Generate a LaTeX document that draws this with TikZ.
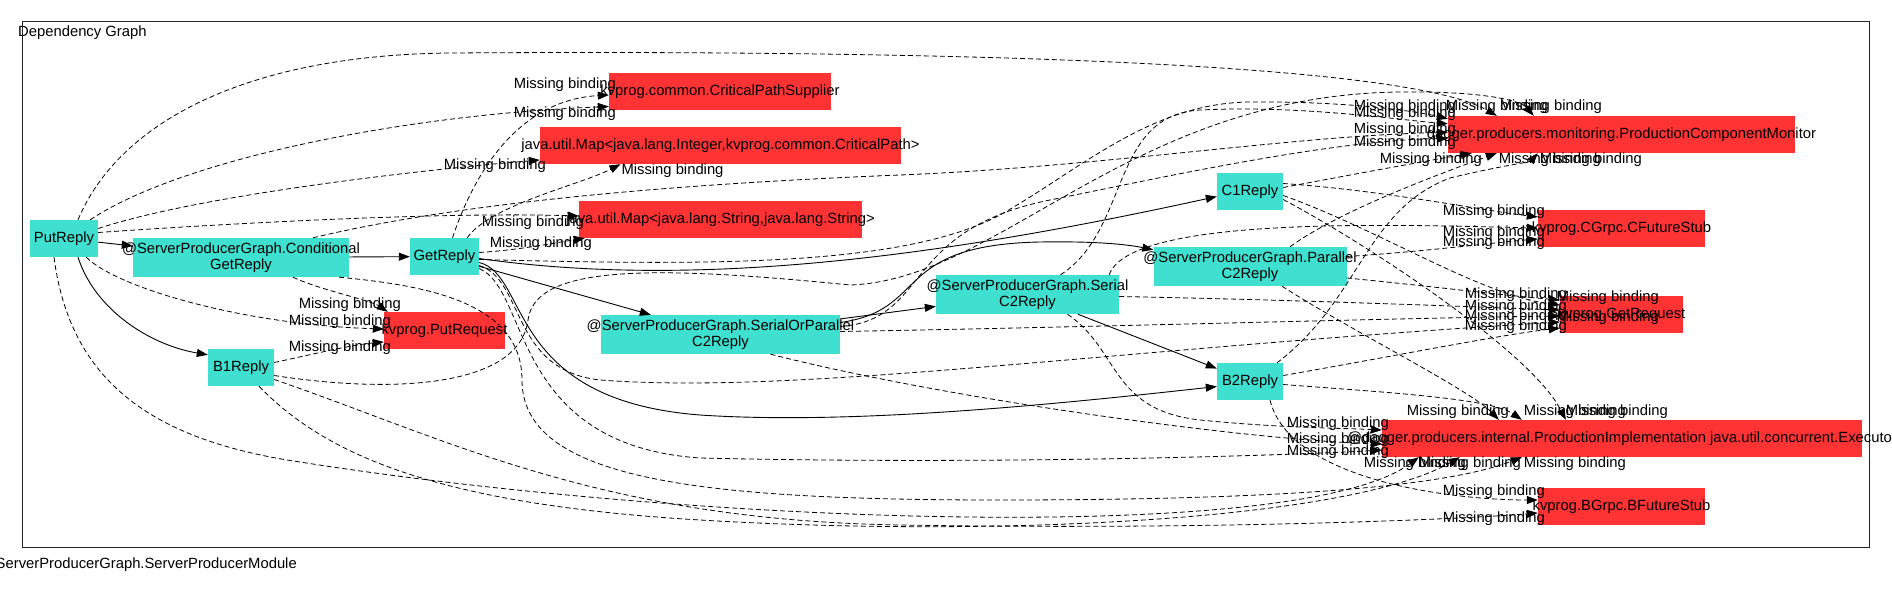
\documentclass[tikz,border=0pt]{standalone}
\usepackage{fontspec}
\setmainfont{Liberation Sans}
\usetikzlibrary{arrows.meta}
\definecolor{replycyan}{RGB}{64,224,208}
\definecolor{missred}{RGB}{255,51,51}
\newcommand{\spill}[1]{\makebox[0pt]{#1}}
\tikzset{
  reply/.style={fill=replycyan, inner sep=0pt, minimum height=37pt, align=center},
  unbound/.style={fill=missred, inner sep=0pt, minimum height=37pt},
  dep/.style={line width=0.9pt, -{Triangle[length=11pt,width=8pt]}},
  miss/.style={dep, line width=0.8pt, dash pattern=on 5pt off 3pt},
  lbl/.style={inner sep=0pt}
}
\begin{document}
\begin{tikzpicture}[x=1pt, y=-1pt, font=\fontsize{14.8}{16}\selectfont]
      \useasboundingbox (0,0) rectangle (1892,593);
      \draw[line width=1pt, black!85] (22,22) rectangle (1869,547);
      \node[anchor=west, inner sep=0pt] (title) at (18,33) {Dependency Graph};
      \node[anchor=east, inner sep=0pt] (module) at (297,565) {ServerProducerGraph.ServerProducerModule};

      \node[reply, minimum width=68pt] (put) at (64,238.5) {PutReply};
      \node[reply, minimum width=216pt, minimum height=39pt] (cond) at (241,257.5) {\spill{@ServerProducerGraph.Conditional}\\GetReply};
      \node[reply, minimum width=69pt] (get) at (444.5,256.5) {GetReply};
      \node[reply, minimum width=66pt] (bone) at (241,367.5) {B1Reply};
      \node[reply, minimum width=239pt, minimum height=39pt] (sop) at (720.5,334.5) {\spill{@ServerProducerGraph.SerialOrParallel}\\C2Reply};
      \node[reply, minimum width=183pt, minimum height=39pt] (serial) at (1027.5,294.5) {\spill{@ServerProducerGraph.Serial}\\C2Reply};
      \node[reply, minimum width=66pt] (cone) at (1250,191.5) {C1Reply};
      \node[reply, minimum width=193pt, minimum height=39pt] (par) at (1250,266.5) {\spill{@ServerProducerGraph.Parallel}\\C2Reply};
      \node[reply, minimum width=66pt] (btwo) at (1250,381.5) {B2Reply};

      \node[unbound, minimum width=121pt] (putreq) at (444.5,330.5) {\spill{kvprog.PutRequest}};
      \node[unbound, minimum width=222pt] (cps) at (720,91.5) {\spill{kvprog.common.CriticalPathSupplier}};
      \node[unbound, minimum width=361pt] (mapint) at (720.5,145.5) {\spill{java.util.Map<java.lang.Integer,kvprog.common.CriticalPath>}};
      \node[unbound, minimum width=283pt] (mapstr) at (720.5,219.5) {\spill{java.util.Map<java.lang.String,java.lang.String>}};
      \node[unbound, minimum width=347pt] (mon) at (1621.5,134.5) {\spill{dagger.producers.monitoring.ProductionComponentMonitor}};
      \node[unbound, minimum width=167pt] (cstub) at (1621.5,228.5) {\spill{kvprog.CGrpc.CFutureStub}};
      \node[unbound, minimum width=123pt] (getreq) at (1621.5,314.5) {\spill{kvprog.GetRequest}};
      \node[unbound, minimum width=480pt] (impl) at (1622,438.5) {\spill{@dagger.producers.internal.ProductionImplementation java.util.concurrent.Executor}};
      \node[unbound, minimum width=167pt] (bstub) at (1621.5,506.5) {\spill{kvprog.BGrpc.BFutureStub}};

      \draw[dep] (put) -- (cond);
      \draw[dep] ([shift={(14,0)}]put.south) .. controls (95,310) and (150,345) .. ([shift={(0,6)}]bone.north west);
      \draw[dep] (cond) -- (get);
      \draw[dep] (get) -- (sop);
      \draw[dep] ([shift={(0,2)}]get.east) .. controls (700,290) and (950,255) .. ([shift={(0,5)}]cone.west);
      \draw[dep] ([shift={(0,6)}]get.east) .. controls (530,275) and (505,400) .. (700,415) .. controls (850,425) and (1050,405) .. ([shift={(0,5)}]btwo.west);
      \draw[dep] (sop) -- (serial);
      \draw[dep] ([shift={(0,-12)}]sop.east) .. controls (930,310) and (890,245) .. (1040,242) .. controls (1100,241) and (1130,245) .. ([shift={(0,3)}]par.north west);
      \draw[dep] (serial) -- (btwo);

      \draw[miss] ([shift={(8,0)}]get.north) .. controls (475,170) and (520,100) .. ([shift={(0,3.5)}]cps.west) node[lbl, shift={(-44,-10)}] {Missing binding};
      \draw[miss] ([shift={(-8,0)}]put.north east) .. controls (180,160) and (400,115) .. ([shift={(0,15)}]cps.west) node[lbl, shift={(-44,7)}] {Missing binding};
      \draw[miss] ([shift={(0,-10)}]put.east) .. controls (200,195) and (420,170) .. ([shift={(0,14.5)}]mapint.west) node[lbl, shift={(-45,6)}] {Missing binding};
      \draw[miss] ([shift={(-12,0)}]get.north east) .. controls (490,205) and (580,185) .. ([shift={(-100,0)}]mapint.south) node[lbl, shift={(52,6)}] {Missing binding};
      \draw[miss] ([shift={(0,-6)}]put.east) .. controls (250,222) and (450,212) .. ([shift={(0,-3.5)}]mapstr.west) node[lbl, shift={(-46,7)}] {Missing binding};
      \draw[miss] ([shift={(0,-4)}]get.east) .. controls (520,250) and (560,242) .. ([shift={(6,0)}]mapstr.south west) node[lbl, shift={(-44,5)}] {Missing binding};

      \draw[miss] ([shift={(52,0)}]cond.south) .. controls (320,290) and (370,300) .. ([shift={(4,0)}]putreq.north west) node[lbl, shift={(-38,-7)}] {Missing binding};
      \draw[miss] ([shift={(-12,0)}]put.south east) .. controls (120,290) and (250,325) .. ([shift={(0,-1.5)}]putreq.west) node[lbl, shift={(-44,-7)}] {Missing binding};
      \draw[miss] ([shift={(0,-5)}]bone.east) .. controls (310,355) and (350,345) .. ([shift={(0,11.5)}]putreq.west) node[lbl, shift={(-44,6)}] {Missing binding};

      \draw[miss] ([shift={(0,3)}]get.east) .. controls (700,265) and (900,268) .. (1000,215) .. controls (1080,170) and (1150,103) .. (1250,102) .. controls (1350,101) and (1420,112) .. ([shift={(0,3)}]mon.north west) node[lbl, shift={(-43,-12)}] {Missing binding};
      \draw[miss] ([shift={(33,0)}]serial.north) .. controls (1130,230) and (1110,115) .. (1200,110) .. controls (1300,105) and (1400,120) .. ([shift={(0,8)}]mon.north west) node[lbl, shift={(-43,-10)}] {Missing binding};
      \draw[miss] ([shift={(72,0)}]cond.north) .. controls (450,205) and (650,185) .. (900,175) .. controls (1100,167) and (1300,135) .. ([shift={(0,-2)}]mon.west) node[lbl, shift={(-43,-2.5)}] {Missing binding};
      \draw[miss] ([shift={(0,-8)}]sop.east) .. controls (930,320) and (900,230) .. (1050,200) .. controls (1150,180) and (1330,140) .. ([shift={(0,4)}]mon.west) node[lbl, shift={(-43,4.5)}] {Missing binding};
      \draw[miss] ([shift={(14,0)}]put.north) .. controls (120,120) and (250,55) .. (450,53) .. controls (900,50) and (1400,60) .. ([shift={(49,0)}]mon.north west) node[lbl, shift={(0,-9)}] {Missing binding};
      \draw[miss] ([shift={(0,8)}]bone.east) .. controls (400,395) and (520,385) .. (528,320) .. controls (535,265) and (650,265) .. (850,285) .. controls (1000,280) and (1130,95) .. (1400,92) .. controls (1480,91) and (1520,100) .. ([shift={(86,0)}]mon.north west) node[lbl, shift={(17,-9)}] {Missing binding};
      \draw[miss] ([shift={(0,-4)}]cone.east) .. controls (1350,175) and (1420,162) .. ([shift={(24,0)}]mon.south west) node[lbl, shift={(-41,6)}] {Missing binding};
      \draw[miss] ([shift={(40,0)}]par.north) .. controls (1340,210) and (1450,170) .. ([shift={(49,0)}]mon.south west) node[lbl, shift={(53,6)}] {Missing binding};
      \draw[miss] ([shift={(27,0)}]btwo.north) .. controls (1360,300) and (1365,210) .. (1450,178) .. controls (1500,166) and (1530,162) .. ([shift={(90,0)}]mon.south west) node[lbl, shift={(53,6)}] {Missing binding};

      \draw[miss] ([shift={(32,0)}]par.south) .. controls (1350,330) and (1470,390) .. ([shift={(117,0)}]impl.north west) node[lbl, shift={(-41,-8)}] {Missing binding};
      \draw[miss] ([shift={(0,3)}]btwo.east) .. controls (1380,392) and (1490,398) .. ([shift={(140,0)}]impl.north west) node[lbl, shift={(53,-8)}] {Missing binding};
      \draw[miss] ([shift={(0,8)}]cone.east) .. controls (1360,240) and (1530,350) .. ([shift={(184,0)}]impl.north west) node[lbl, shift={(51,-8)}] {Missing binding};
      \draw[miss] ([shift={(40,0)}]serial.south) .. controls (1120,350) and (1110,410) .. (1200,420) .. controls (1280,428) and (1340,428) .. ([shift={(0,-8.5)}]impl.west) node[lbl, shift={(-44,-6)}] {Missing binding};
      \draw[miss] ([shift={(50,0)}]sop.south) .. controls (950,400) and (1250,440) .. ([shift={(0,5.5)}]impl.west) node[lbl, shift={(-44,-4)}] {Missing binding};
      \draw[miss] ([shift={(0,12)}]get.east) .. controls (530,290) and (510,445) .. (700,458) .. controls (1000,465) and (1300,455) .. ([shift={(0,11.5)}]impl.west) node[lbl, shift={(-44,2)}] {Missing binding};
      \draw[miss] ([shift={(-10,0)}]put.south) .. controls (70,380) and (150,440) .. (300,462) .. controls (700,525) and (1300,545) .. ([shift={(37,0)}]impl.south west) node[lbl, shift={(-4,6)}] {Missing binding};
      \draw[miss] ([shift={(18,0)}]bone.south) .. controls (330,460) and (450,505) .. (700,520) .. controls (1000,538) and (1350,520) .. ([shift={(78,0)}]impl.south west) node[lbl, shift={(10,6)}] {Missing binding};
      \draw[miss] ([shift={(-10,0)}]cond.south east) .. controls (420,285) and (522,300) .. (522,380) .. controls (522,480) and (700,500) .. (1000,500) .. controls (1300,500) and (1450,485) .. ([shift={(140,0)}]impl.south west) node[lbl, shift={(53,6)}] {Missing binding};

      \draw[miss] ([shift={(0,11.5)}]par.east) .. controls (1420,285) and (1500,295) .. ([shift={(0,-14.5)}]getreq.west) node[lbl, shift={(-44,-5)}] {Missing binding};
      \draw[miss] ([shift={(0,4)}]cone.east) .. controls (1380,230) and (1480,295) .. ([shift={(0,-9.5)}]getreq.west) node[lbl, shift={(48,-7)}] {Missing binding};
      \draw[miss] ([shift={(0,2)}]serial.east) .. controls (1300,300) and (1450,306) .. ([shift={(0,-4.5)}]getreq.west) node[lbl, shift={(-44,-3)}] {Missing binding};
      \draw[miss] ([shift={(0,-3)}]sop.east) .. controls (1100,327) and (1400,318) .. ([shift={(0,1.5)}]getreq.west) node[lbl, shift={(-44,1)}] {Missing binding};
      \draw[miss] ([shift={(0,9)}]get.east) .. controls (525,280) and (510,370) .. (600,380) .. controls (800,395) and (1100,350) .. ([shift={(0,7.5)}]getreq.west) node[lbl, shift={(48,-4)}] {Missing binding};
      \draw[miss] ([shift={(0,-6)}]btwo.east) .. controls (1400,355) and (1500,335) .. ([shift={(0,13.5)}]getreq.west) node[lbl, shift={(-44,-1)}] {Missing binding};

      \draw[miss] ([shift={(0,-8)}]cone.east) .. controls (1380,190) and (1480,210) .. ([shift={(0,-11.5)}]cstub.west) node[lbl, shift={(-44,-5)}] {Missing binding};
      \draw[miss] ([shift={(-10,0)}]serial.north east) .. controls (1130,215) and (1400,225) .. ([shift={(0,-0.5)}]cstub.west) node[lbl, shift={(-44,5)}] {Missing binding};
      \draw[miss] ([shift={(0,-10)}]par.east) .. controls (1420,252) and (1500,242) .. ([shift={(0,10.5)}]cstub.west) node[lbl, shift={(-44,4)}] {Missing binding};

      \draw[miss] ([shift={(20,0)}]btwo.south) .. controls (1290,480) and (1450,500) .. ([shift={(0,-6.5)}]bstub.west) node[lbl, shift={(-44,-8)}] {Missing binding};
      \draw[miss] ([shift={(0,12)}]bone.east) .. controls (450,440) and (600,520) .. (900,525) .. controls (1200,530) and (1450,520) .. ([shift={(0,6.5)}]bstub.west) node[lbl, shift={(-44,6)}] {Missing binding};
\end{tikzpicture}
\end{document}
